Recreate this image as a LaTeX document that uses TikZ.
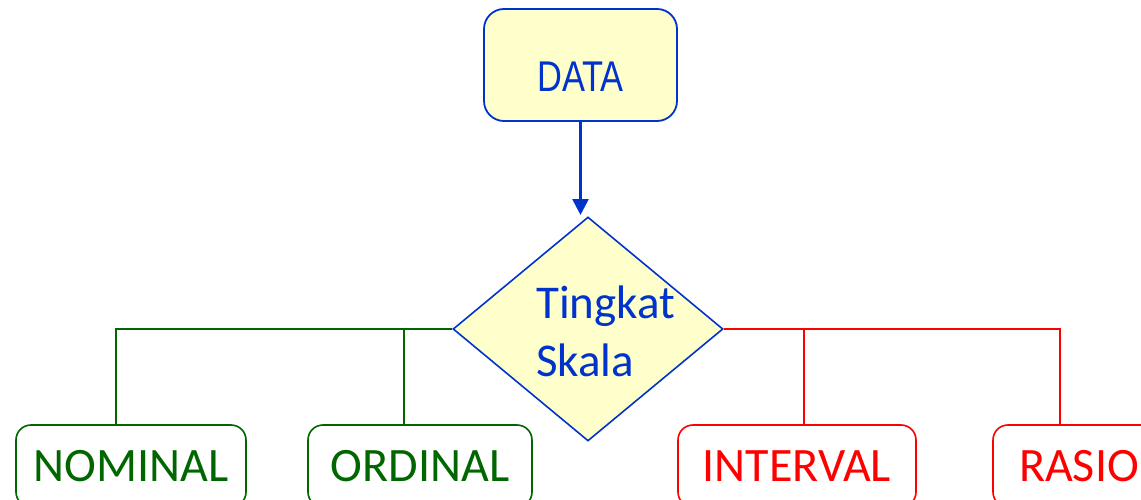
\documentclass[tikz,border=0pt]{standalone}
\usepackage{fontspec}
\setmainfont{Carlito}
\newfontfamily\arialf{Liberation Sans}
\usetikzlibrary{shapes.geometric,arrows.meta}
\definecolor{dblue}{RGB}{0,51,204}
\definecolor{dgreen}{RGB}{0,102,0}
\definecolor{dred}{RGB}{255,0,0}
\definecolor{lyellow}{RGB}{255,255,204}
\begin{document}
\begin{tikzpicture}[x=1pt,y=-1pt,
  bigfont/.style={font=\fontsize{47}{58}\selectfont},
  leaffont/.style={font=\fontsize{48}{58}\selectfont},
  topbox/.style={draw=dblue,line width=1.8pt,fill=lyellow,rounded corners=20pt,
    minimum width=193pt,minimum height=112pt,inner sep=0pt,text=dblue},
  decis/.style={diamond,draw=dblue,line width=1.6pt,fill=lyellow,
    minimum width=270pt,minimum height=224pt,inner sep=0pt},
  leafg/.style={draw=dgreen,line width=1.6pt,fill=white,rounded corners=15pt,
    minimum height=82pt,inner sep=0pt,text=dgreen,leaffont,text height=30pt,text depth=0pt},
  leafr/.style={leafg,draw=dred,text=dred},
  gline/.style={draw=dgreen,line width=1.6pt},
  rline/.style={draw=dred,line width=1.6pt},
  barrow/.style={draw=dblue,line width=2.6pt,-{Triangle[width=16pt,length=16pt]}}]
\useasboundingbox (0,0) rectangle (1141,500);
\node[topbox,text height=54pt,text depth=0pt] (data) at (580.5,65)
  {\arialf\fontsize{43}{50}\selectfont\scalebox{0.8}[1]{DATA}};
\node[decis] (dia) at (588,329) {};
\node[bigfont,text=dblue,align=left,anchor=west,inner sep=0pt] (lbl) at (536,331) {Tingkat\\Skala};
\coordinate (tip) at (580.5,215);
\draw[barrow] (data.south) -- (tip);
\node[leafg,minimum width=230pt] (nom) at (131,466) {NOMINAL};
\node[leafg,minimum width=224pt] (ord) at (420,466) {ORDINAL};
\node[leafr,minimum width=238pt] (int) at (797,466) {INTERVAL};
\node[leafr,minimum width=172pt] (ras) at (1079,466) {RASIO};
\coordinate (nomtop) at (116,425);
\coordinate (ordtop) at (404,425);
\coordinate (inttop) at (804,425);
\coordinate (rastop) at (1060,425);
\draw[gline] (dia.west) -| (nomtop);
\draw[gline] (dia.west -| ordtop) -- (ordtop);
\draw[rline] (dia.east) -| (rastop);
\draw[rline] (dia.east -| inttop) -- (inttop);
\end{tikzpicture}
\end{document}
